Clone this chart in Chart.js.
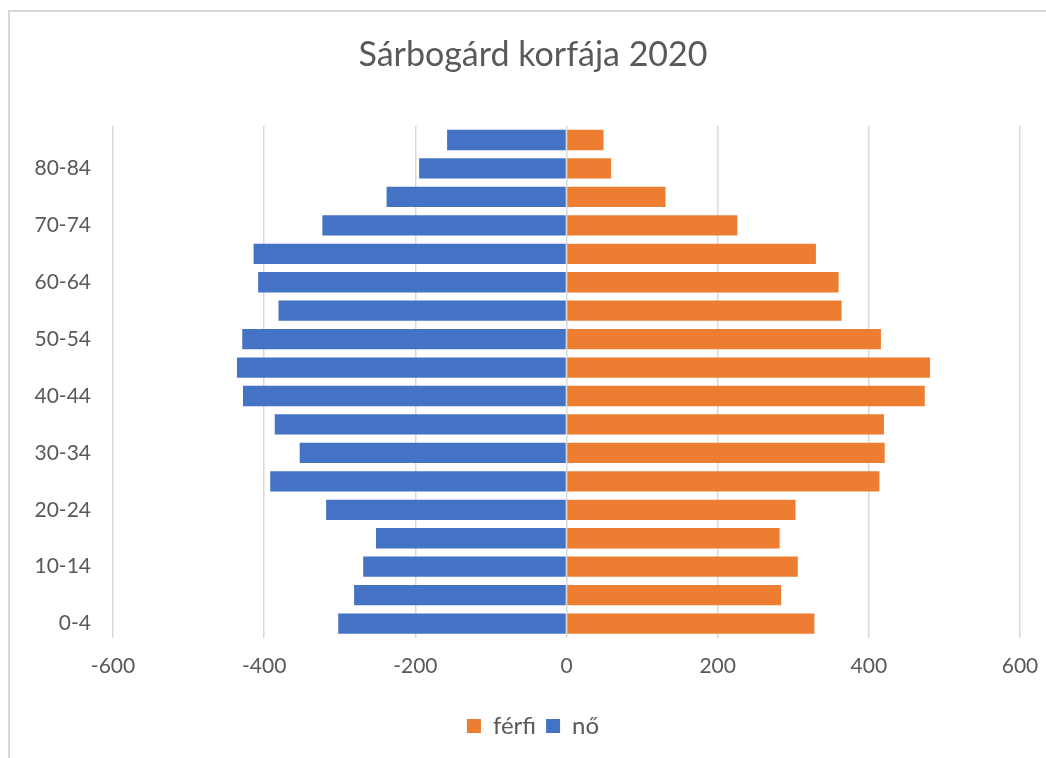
<!DOCTYPE html>
<html>
<head>
<meta charset="utf-8">
<script src="https://cdn.jsdelivr.net/npm/chart.js@4"></script>
<style>
  body { margin: 0; background: #fff; }
  #frame { position: absolute; left: 8px; top: 10px; width: 1100px; height: 800px; border: 2px solid #d9d9d9; }
  #wrap { position: absolute; left: 0; top: 0; width: 1046px; height: 758px; }
</style>
</head>
<body>
<div id="frame"></div>
<div id="wrap"><canvas id="pyramid"></canvas></div>
<script>
// Age groups, bottom to top
const ageGroups = ['0-4', '5-9', '10-14', '15-19', '20-24', '25-29', '30-34', '35-39', '40-44',
  '45-49', '50-54', '55-59', '60-64', '65-69', '70-74', '75-79', '80-84', '85+'];

// Men (shown to the right)
const ferfi = [328, 284, 306, 282, 303, 414, 421, 420, 474, 481, 416, 364, 360, 330, 226, 131, 59, 49];

// Women (shown to the left, stored as positive counts)
const no = [302, 281, 269, 252, 318, 392, 353, 386, 428, 436, 429, 381, 408, 414, 323, 238, 195, 158];

const xTicks = [-600, -400, -200, 0, 200, 400, 600];

const textColor = '#595959';
const fontFamily = 'Lato, "Open Sans", sans-serif';

const ctx = document.getElementById('pyramid').getContext('2d');
const pyramidChart = new Chart(ctx, {
  type: 'bar',
  data: {
    labels: ageGroups,
    datasets: [
      {
        label: 'férfi',
        data: ferfi,
        backgroundColor: '#ED7D31',
        barPercentage: 0.714,
        categoryPercentage: 1
      },
      {
        label: 'nő',
        data: no.map(v => -v),
        backgroundColor: '#4472C4',
        barPercentage: 0.714,
        categoryPercentage: 1
      }
    ]
  },
  options: {
    indexAxis: 'y',
    responsive: true,
    maintainAspectRatio: false,
    animation: false,
    layout: { padding: { left: 30, right: 10, top: 35, bottom: 10 } },
    plugins: {
      title: {
        display: true,
        text: 'Sárbogárd korfája 2020',
        color: textColor,
        font: { family: fontFamily, size: 34, weight: 'normal' },
        padding: { top: 0, bottom: 50 }
      },
      legend: {
        position: 'bottom',
        labels: {
          color: textColor,
          font: { family: fontFamily, size: 24 },
          boxWidth: 14,
          boxHeight: 14,
          padding: 10
        }
      },
      tooltip: { enabled: false }
    },
    scales: {
      x: {
        stacked: true,
        min: xTicks[0],
        max: xTicks[xTicks.length - 1],
        afterBuildTicks: axis => { axis.ticks = xTicks.map(v => ({ value: v })); },
        afterFit: axis => {
          axis.paddingLeft = 0;
          axis.paddingRight = 26;
          axis.height += 9;
        },
        grid: { color: '#d9d9d9', lineWidth: 1.5, drawTicks: false },
        border: { display: false },
        ticks: {
          color: textColor,
          font: { family: fontFamily, size: 21 },
          padding: 16
        }
      },
      y: {
        stacked: true,
        reverse: true,
        afterFit: axis => { axis.width = 83; },
        grid: { display: false, drawTicks: false },
        border: { display: false },
        ticks: {
          autoSkip: false,
          color: textColor,
          font: { family: fontFamily, size: 21 },
          padding: 22,
          callback: (val, idx) => idx % 2 === 0 ? ageGroups[idx] : ''
        }
      }
    }
  }
});
</script>
</body>
</html>
